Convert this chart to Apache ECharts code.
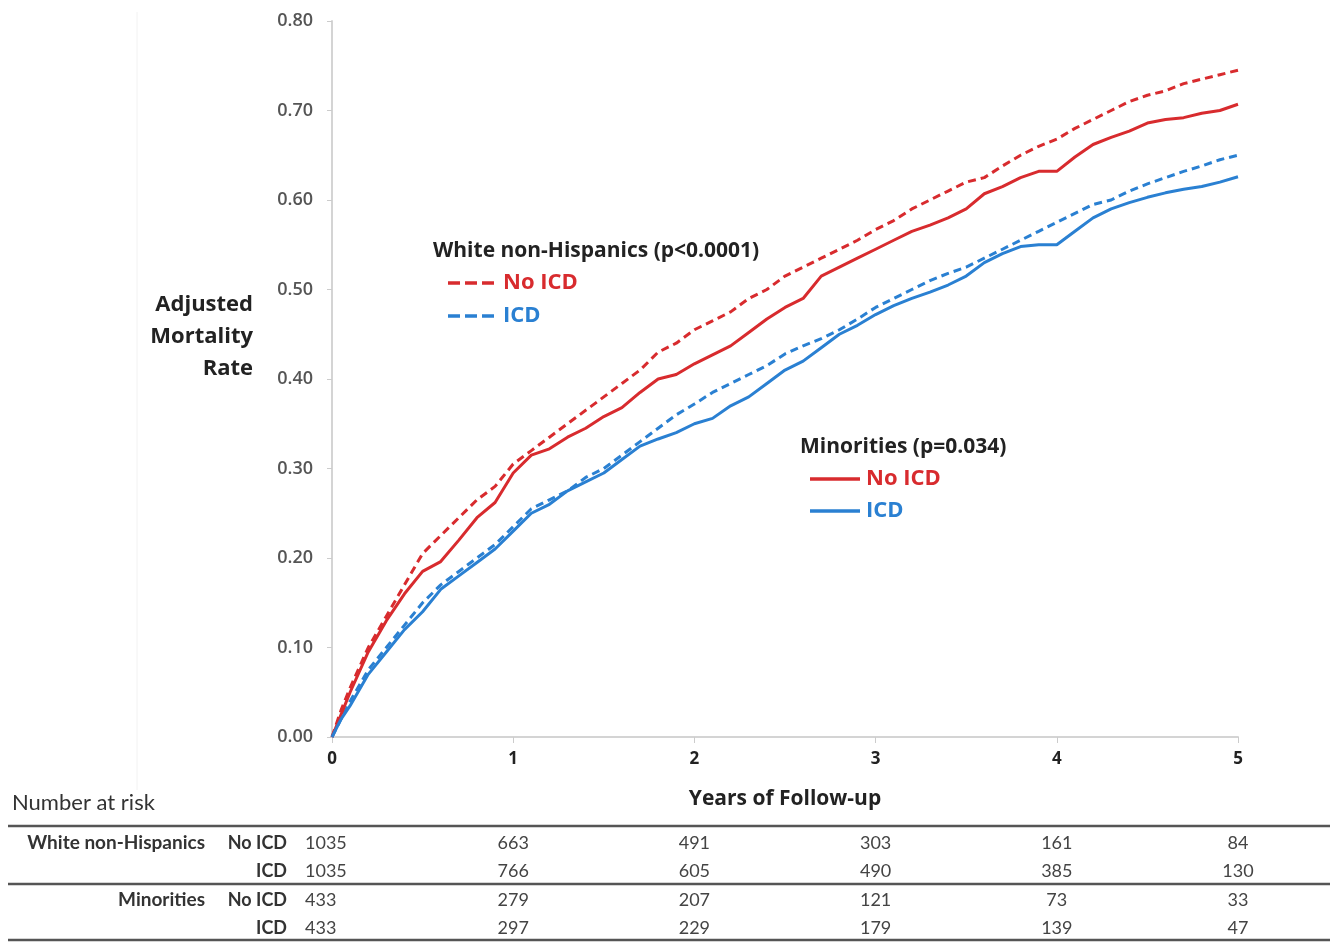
<!DOCTYPE html>
<html>
<head>
<meta charset="utf-8">
<script src="https://cdn.jsdelivr.net/npm/echarts@6/dist/echarts.min.js"></script>
<style>
    html, body { margin: 0; padding: 0; background: #fff; }
    #main { width: 1336px; height: 942px; }
</style>
</head>
<body>
<div id="main"></div>
<script>
    // time grid (years of follow-up)
    var years = [0, 0.05, 0.1, 0.2, 0.3, 0.4, 0.5, 0.6, 0.7, 0.8, 0.9,
        1.0, 1.1, 1.2, 1.3, 1.4, 1.5, 1.6, 1.7, 1.8, 1.9,
        2.0, 2.1, 2.2, 2.3, 2.4, 2.5, 2.6, 2.7, 2.8, 2.9,
        3.0, 3.1, 3.2, 3.3, 3.4, 3.5, 3.6, 3.7, 3.8, 3.9,
        4.0, 4.1, 4.2, 4.3, 4.4, 4.5, 4.6, 4.7, 4.8, 4.9, 5.0];

    // white non-hispanics, no ICD (red dashed)
    var whiteNoIcd = [0, 0.03, 0.055, 0.10, 0.135, 0.17, 0.205, 0.225, 0.245, 0.265, 0.28,
        0.305, 0.32, 0.335, 0.35, 0.365, 0.38, 0.395, 0.41, 0.43, 0.44,
        0.455, 0.465, 0.475, 0.49, 0.50, 0.515, 0.525, 0.535, 0.545, 0.555,
        0.567, 0.577, 0.59, 0.60, 0.61, 0.62, 0.625, 0.638, 0.65, 0.66,
        0.668, 0.68, 0.69, 0.70, 0.71, 0.717, 0.722, 0.73, 0.735, 0.74, 0.745];
    // white non-hispanics, ICD (blue dashed)
    var whiteIcd = [0, 0.02, 0.04, 0.075, 0.10, 0.125, 0.15, 0.17, 0.185, 0.20, 0.215,
        0.235, 0.255, 0.265, 0.275, 0.29, 0.30, 0.315, 0.33, 0.345, 0.36,
        0.372, 0.385, 0.395, 0.405, 0.415, 0.428, 0.437, 0.445, 0.455, 0.467,
        0.48, 0.49, 0.50, 0.51, 0.518, 0.525, 0.535, 0.545, 0.555, 0.565,
        0.575, 0.585, 0.595, 0.60, 0.61, 0.618, 0.625, 0.632, 0.638, 0.645, 0.65];
    // minorities, no ICD (red solid)
    var minorNoIcd = [0, 0.025, 0.05, 0.095, 0.13, 0.16, 0.185, 0.196, 0.22, 0.245, 0.262,
        0.295, 0.315, 0.322, 0.335, 0.345, 0.358, 0.368, 0.385, 0.40, 0.405,
        0.417, 0.427, 0.437, 0.452, 0.467, 0.48, 0.49, 0.515, 0.525, 0.535,
        0.545, 0.555, 0.565, 0.572, 0.58, 0.59, 0.607, 0.615, 0.625, 0.632,
        0.632, 0.648, 0.662, 0.67, 0.677, 0.686, 0.69, 0.692, 0.697, 0.70, 0.707];
    // minorities, ICD (blue solid)
    var minorIcd = [0, 0.02, 0.035, 0.07, 0.095, 0.12, 0.14, 0.165, 0.18, 0.195, 0.21,
        0.23, 0.25, 0.26, 0.275, 0.285, 0.295, 0.31, 0.325, 0.333, 0.34,
        0.35, 0.356, 0.37, 0.38, 0.395, 0.41, 0.42, 0.435, 0.45, 0.46,
        0.472, 0.482, 0.49, 0.497, 0.505, 0.515, 0.53, 0.54, 0.548, 0.55,
        0.55, 0.565, 0.58, 0.59, 0.597, 0.603, 0.608, 0.612, 0.615, 0.62, 0.626];

    // number at risk table
    var riskYears = [0, 1, 2, 3, 4, 5];
    var riskWhiteNo = [1035, 663, 491, 303, 161, 84];
    var riskWhiteIcd = [1035, 766, 605, 490, 385, 130];
    var riskMinorNo = [433, 279, 207, 121, 73, 33];
    var riskMinorIcd = [433, 297, 229, 179, 139, 47];

    var RED = '#d82b2e';
    var BLUE = '#2a80d2';
    var FONT = 'Open Sans';
    var TFONT = 'Lato';

    function pairs(vals) {
        return years.map(function (t, i) { return [t, vals[i]]; });
    }

    var chart = echarts.init(document.getElementById('main'));
    chart.setOption({
        animation: false,
        grid: { left: 332, right: 98, top: 21, bottom: 205 },
        xAxis: {
            type: 'value', min: 0, max: 5, interval: 1,
            name: 'Years of Follow-up', nameLocation: 'middle', nameGap: 52,
            nameTextStyle: { fontFamily: FONT, fontWeight: 'bold', fontSize: 21, color: '#222' },
            axisLine: { lineStyle: { color: '#d4d4d4', width: 2 } },
            axisTick: { length: 6, lineStyle: { color: '#ccc' } },
            axisLabel: { fontFamily: FONT, fontWeight: 'bold', fontSize: 17, color: '#222', margin: 14 },
            splitLine: { show: false }
        },
        yAxis: {
            type: 'value', min: 0, max: 0.8, interval: 0.1,
            axisLine: { show: true, lineStyle: { color: '#d4d4d4', width: 2 } },
            axisTick: { show: true, length: 5, lineStyle: { color: '#ccc' } },
            axisLabel: {
                fontFamily: FONT, fontWeight: 600, fontSize: 18, color: '#555', margin: 19,
                formatter: function (v) { return v.toFixed(2); }
            },
            splitLine: { show: false }
        },
        series: [
            { name: 'White No ICD', type: 'line', showSymbol: false, data: pairs(whiteNoIcd),
              lineStyle: { color: RED, width: 3, type: [8, 5] } },
            { name: 'White ICD', type: 'line', showSymbol: false, data: pairs(whiteIcd),
              lineStyle: { color: BLUE, width: 3, type: [8, 5] } },
            { name: 'Minorities No ICD', type: 'line', showSymbol: false, data: pairs(minorNoIcd),
              lineStyle: { color: RED, width: 3 } },
            { name: 'Minorities ICD', type: 'line', showSymbol: false, data: pairs(minorIcd),
              lineStyle: { color: BLUE, width: 3 } }
        ]
    });

    // texts, legends and the number-at-risk table
    var g = [];
    function txt(x, y, s, o) {
        g.push({
            type: 'text', x: x, y: y, silent: true,
            style: Object.assign({ text: s, fontFamily: FONT, fontSize: 18, fill: '#222',
                align: 'left', verticalAlign: 'middle' }, o || {})
        });
    }
    function seg(x1, y1, x2, y2, color, width, dash) {
        g.push({
            type: 'line', silent: true,
            shape: { x1: x1, y1: y1, x2: x2, y2: y2 },
            style: { stroke: color, lineWidth: width, lineDash: dash || null }
        });
    }

    // faint scan edge line
    seg(137, 12, 137, 790, '#f2f2f2', 1);

    // y title
    var yTitle = ['Adjusted', 'Mortality', 'Rate'];
    yTitle.forEach(function (s, i) {
        txt(253, 305 + i * 32, s, { align: 'right', fontWeight: 'bold', fontSize: 22 });
    });

    // legend groups
    txt(433, 251, 'White non-Hispanics (p<0.0001)', { fontWeight: 'bold', fontSize: 21 });
    seg(448, 283, 497, 283, RED, 3.5, [12, 5]);
    txt(503, 283, 'No ICD', { fontWeight: 'bold', fontSize: 22, fill: RED });
    seg(448, 316, 497, 316, BLUE, 3.5, [12, 5]);
    txt(503, 316, 'ICD', { fontWeight: 'bold', fontSize: 22, fill: BLUE });

    txt(800, 447, 'Minorities (p=0.034)', { fontWeight: 'bold', fontSize: 21 });
    seg(810, 479, 860, 479, RED, 3.5);
    txt(866, 479, 'No ICD', { fontWeight: 'bold', fontSize: 22, fill: RED });
    seg(810, 511, 860, 511, BLUE, 3.5);
    txt(866, 511, 'ICD', { fontWeight: 'bold', fontSize: 22, fill: BLUE });

    // table
    txt(12, 803, 'Number at risk', { fontFamily: TFONT, fontSize: 22, fill: '#333' });
    seg(8, 826, 1330, 826, '#555', 2.5);
    seg(8, 884, 1330, 884, '#555', 2.5);
    seg(8, 940, 1330, 940, '#555', 2.5);

    var rows = [
        { group: 'White non-Hispanics', arm: 'No ICD', vals: riskWhiteNo, y: 843 },
        { group: '', arm: 'ICD', vals: riskWhiteIcd, y: 871 },
        { group: 'Minorities', arm: 'No ICD', vals: riskMinorNo, y: 900 },
        { group: '', arm: 'ICD', vals: riskMinorIcd, y: 928 }
    ];
    rows.forEach(function (r) {
        if (r.group) {
            txt(205, r.y, r.group, { fontFamily: TFONT, fontWeight: 'bold', fontSize: 19, fill: '#333', align: 'right' });
        }
        txt(287, r.y, r.arm, { fontFamily: TFONT, fontWeight: 'bold', fontSize: 18, fill: '#333', align: 'right' });
        r.vals.forEach(function (v, i) {
            var px = chart.convertToPixel({ xAxisIndex: 0 }, riskYears[i]);
            if (i === 0) {
                txt(305, r.y, String(v), { fontFamily: TFONT, fontSize: 18, fill: '#444' });
            } else {
                txt(px, r.y, String(v), { fontFamily: TFONT, fontSize: 18, fill: '#444', align: 'center' });
            }
        });
    });

    chart.setOption({ graphic: g });
</script>
</body>
</html>
